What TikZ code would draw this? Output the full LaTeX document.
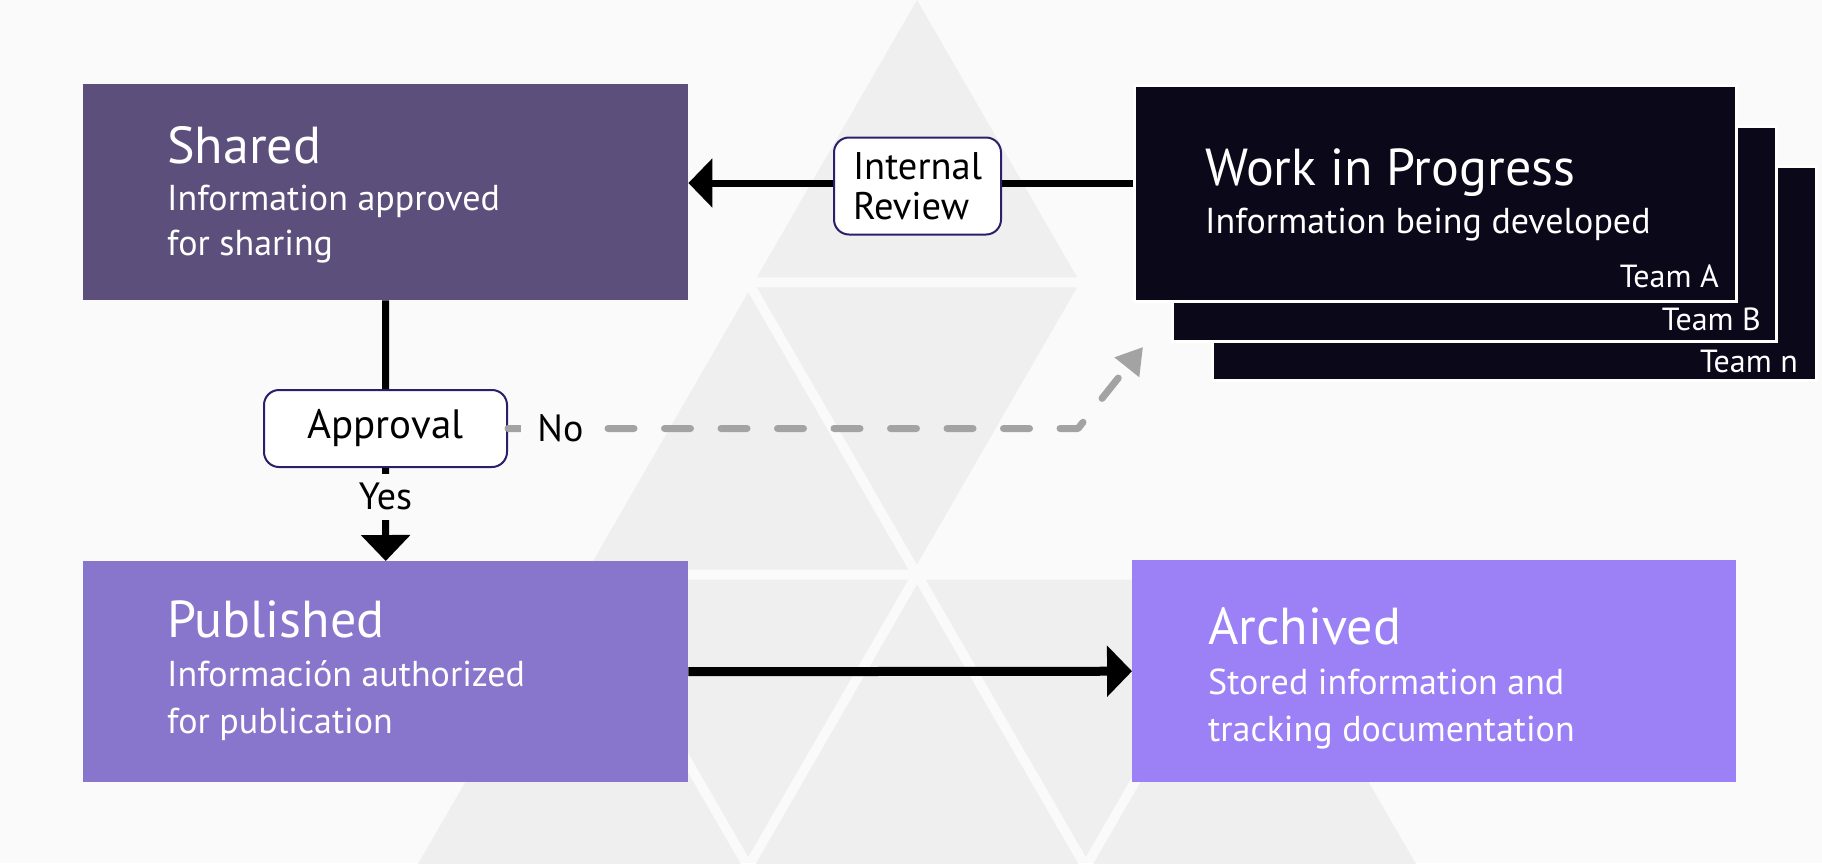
\documentclass[tikz,border=0pt]{standalone}
\usepackage{fontspec}
\setmainfont{PT Sans}
\usetikzlibrary{arrows.meta}
\definecolor{bgc}{HTML}{FAFAFA}
\definecolor{trig}{HTML}{EFEFEF}
\definecolor{sharedc}{HTML}{5C4F7C}
\definecolor{pubc}{HTML}{8776CB}
\definecolor{archc}{HTML}{9C80F5}
\definecolor{darkc}{HTML}{0B0819}
\definecolor{edgec}{HTML}{2D1E6B}
\definecolor{dashc}{HTML}{A3A3A3}
\begin{document}
\begin{tikzpicture}[x=1pt,y=-1pt,
  tri/.style={fill=trig},
  box/.style={draw=none,inner sep=0pt,anchor=north west},
  darkbox/.style={fill=darkc,draw=white,line width=2.5pt,inner sep=0pt,anchor=north west},
  ttl/.style={text=white,inner sep=0pt,anchor=base west,font=\fontsize{52}{60}\selectfont},
  sub/.style={text=white,inner sep=0pt,anchor=base west,font=\fontsize{36}{42}\selectfont},
  team/.style={text=white,inner sep=0pt,anchor=base east,font=\fontsize{32}{38}\selectfont},
  lbl/.style={draw=edgec,line width=2pt,fill=white,rounded corners=15pt,text=black,align=left,inner sep=0pt},
  blk/.style={draw=black,line width=7pt},
  tag/.style={fill=bgc,text=black,font=\fontsize{38}{44}\selectfont}
]
\useasboundingbox (0,0) rectangle (1822,863);
\fill[bgc] (0,0) rectangle (1822,863);
\begin{scope}
\clip (0,0) rectangle (1822,863);
% background pyramid of triangles
\fill[tri] (917,0) -- (756.9,277.3) -- (1077.1,277.3) -- cycle;
\fill[tri] (748.2,292.3) -- (588.1,569.6) -- (908.3,569.6) -- cycle;
\fill[tri] (756.9,287.3) -- (1077.1,287.3) -- (917,564.6) -- cycle;
\fill[tri] (579.4,584.6) -- (408.8,880) -- (750,880) -- cycle;
\fill[tri] (588.1,579.6) -- (908.3,579.6) -- (748.2,856.9) -- cycle;
\fill[tri] (917,584.6) -- (746.4,880) -- (1087.6,880) -- cycle;
\fill[tri] (925.7,579.6) -- (1245.9,579.6) -- (1085.8,856.9) -- cycle;
\fill[tri] (1254.6,584.6) -- (1084,880) -- (1425.2,880) -- cycle;
\end{scope}

% boxes
\node[box,fill=sharedc,minimum width=605pt,minimum height=216pt] (shared) at (83,84) {};
\node[box,fill=pubc,minimum width=605pt,minimum height=221pt] (published) at (83,561) {};
\node[box,fill=archc,minimum width=604pt,minimum height=222pt] (archived) at (1132,560) {};
\node[darkbox,minimum width=604pt,minimum height=214pt] (wipN) at (1211,165) {};
\node[darkbox,minimum width=604pt,minimum height=215pt] (wipB) at (1171,125) {};
\node[darkbox,minimum width=602pt,minimum height=216pt] (wipA) at (1133,84) {};

% texts
\node[ttl] (sharedT) at (167,163) {Shared};
\node[sub] (sharedS1) at (167,210) {Information approved};
\node[sub] (sharedS2) at (167,255) {for sharing};
\node[ttl] (pubT) at (167,637) {Published};
\node[sub] (pubS1) at (167,686) {Información authorized};
\node[sub] (pubS2) at (167,733) {for publication};
\node[ttl] (archT) at (1208,644) {Archived};
\node[sub] (archS1) at (1208,694) {Stored information and};
\node[sub] (archS2) at (1208,741) {tracking documentation};
\node[ttl] (wipT) at (1205,185) {Work in Progress};
\node[sub] (wipS) at (1205,233) {Information being developed};
\node[team] (teamA) at (1719,287) {Team A};
\node[team] (teamB) at (1761,330) {Team B};
\node[team] (teamN) at (1798,372) {Team n};

% label boxes
\node[lbl,font=\fontsize{38.5}{40}\selectfont,minimum width=167pt,minimum height=97pt] (ir) at (917.5,186) {Internal\\Review};
\node[lbl,font=\fontsize{41}{44}\selectfont,minimum width=243pt,minimum height=77pt] (appr) at (385.5,428.5) {Approval};

% connectors
\draw[blk] (wipA.west |- 0,183) -- (ir.east |- 0,183);
\draw[blk,-{Triangle[length=24pt,width=48pt]}] (ir.west |- 0,183) -- (shared.east |- 0,183);
\draw[blk] (shared.south) -- (appr.north);
\draw[blk,-{Triangle[length=26pt,width=48pt]}] (appr.south) -- node[tag,pos=0.31,inner xsep=4pt,inner ysep=9.5pt] (yes) {Yes} (published.north);
\draw[blk,line width=9pt,-{Triangle[length=25pt,width=50pt]}] (published.east) -- (archived.west);
\coordinate (nocorner) at (1078,428.5);
\coordinate (noend) at (1143,347);
\draw[draw=dashc,line width=7pt,line cap=round,line join=round,dash pattern=on 26pt off 30.5pt,dash phase=13pt,-{Triangle[length=26pt,width=30pt]}]
  (appr.east) -- node[tag,pos=0.092,inner xsep=16pt,inner ysep=10pt] (no) {No} (nocorner) -- (noend);
\end{tikzpicture}
\end{document}
